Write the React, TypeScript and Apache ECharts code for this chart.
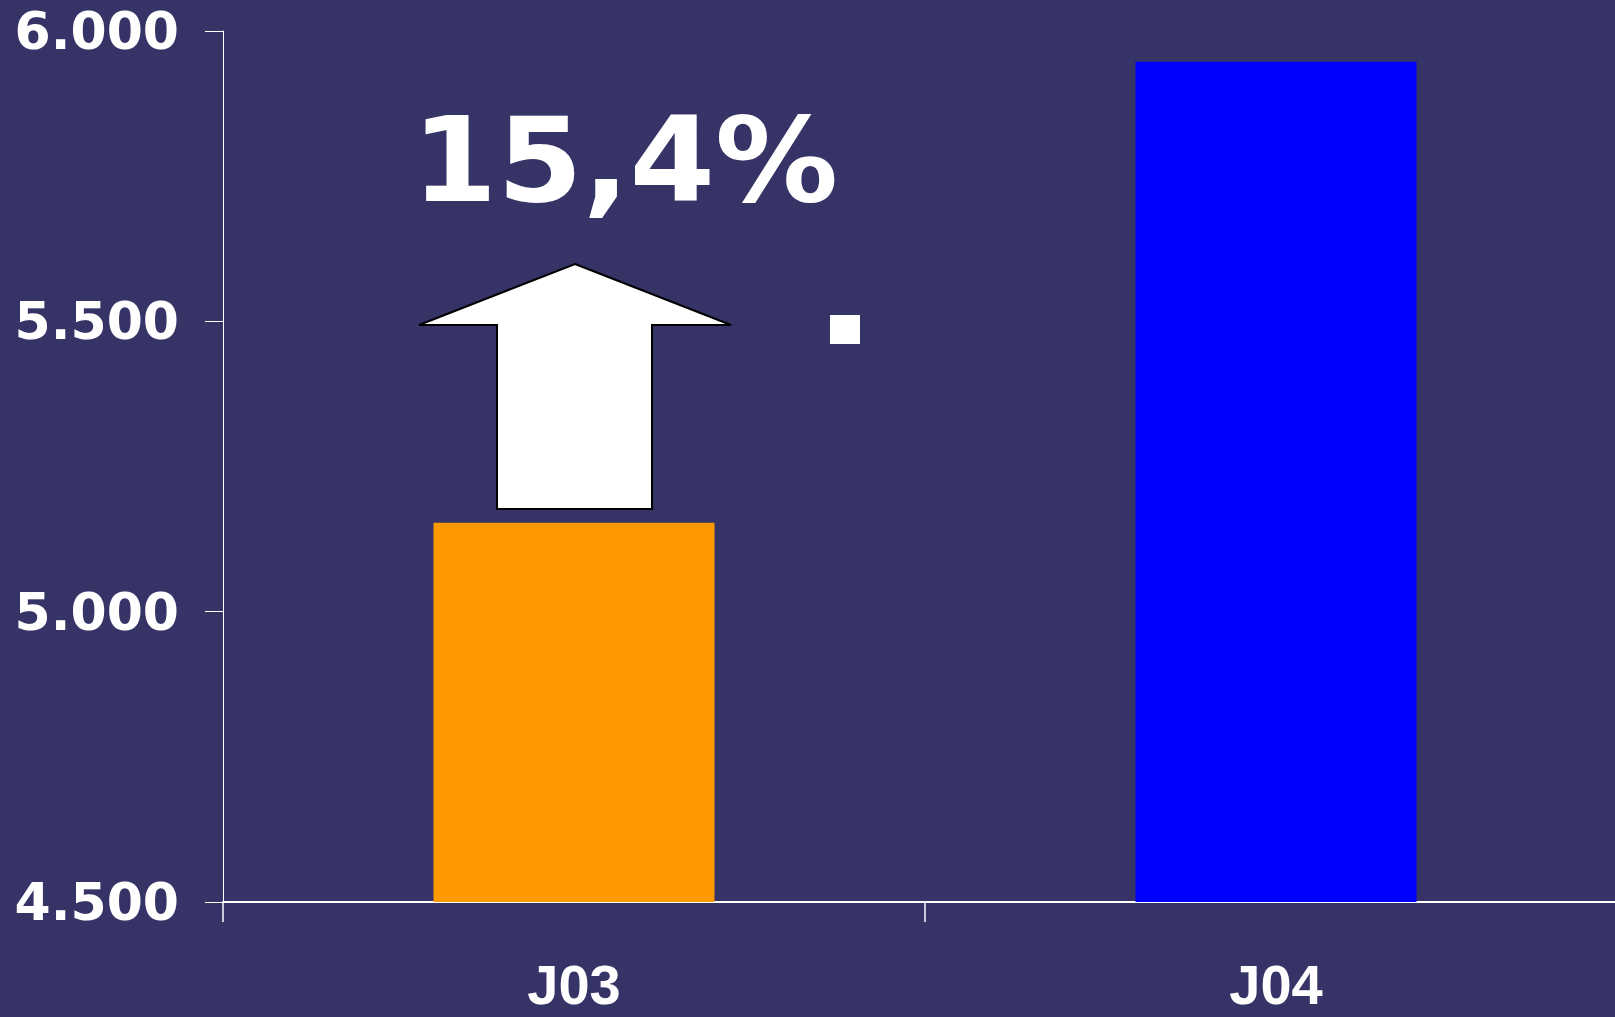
import React, { useEffect, useRef } from "react";
import * as echarts from "echarts";

const categories = ["J03", "J04"];
const values = [5153, 5947];
const barColors = ["#FF9900", "#0000FF"];
const yTicks = { min: 4500, max: 6000, interval: 500 };
const changeLabel = "15,4%";

export default function App() {
  const ref = useRef<HTMLDivElement>(null);
  useEffect(() => {
    if (!ref.current) return;
    const chart = echarts.init(ref.current, null, { renderer: "svg" });
    chart.setOption({
      animation: false,
      backgroundColor: "#363366",
      grid: {
        left: 223,
        top: 31,
        height: 871,
        width: 1404,
        containLabel: false,
        outerBoundsMode: "none",
      },
      xAxis: {
        type: "category",
        data: categories,
        axisLine: { lineStyle: { color: "#ffffff", width: 2 } },
        axisTick: { show: true, length: 20, lineStyle: { color: "#ffffff", width: 1.5 } },
        axisLabel: {
          color: "#ffffff",
          fontSize: 56,
          lineHeight: 56,
          fontWeight: "bold",
          fontFamily: "'Liberation Sans', Arial, sans-serif",
          margin: 54,
        },
      },
      yAxis: {
        type: "value",
        min: yTicks.min,
        max: yTicks.max,
        interval: yTicks.interval,
        splitLine: { show: false },
        axisLine: { show: true, lineStyle: { color: "#ffffff", width: 1 } },
        axisTick: { show: true, length: 18, lineStyle: { color: "#ffffff", width: 1 } },
        axisLabel: {
          color: "#ffffff",
          fontSize: 52,
          fontWeight: "bold",
          fontFamily: "'DejaVu Sans', sans-serif",
          margin: 44,
          formatter: (v: number) => v.toLocaleString("de-DE"),
        },
      },
      series: [
        {
          type: "bar",
          barWidth: 281,
          data: values.map((v, i) => ({ value: v, itemStyle: { color: barColors[i] } })),
        },
      ],
      graphic: [
        {
          type: "polygon",
          shape: {
            points: [
              [575, 264],
              [731, 325],
              [652, 325],
              [652, 509],
              [497, 509],
              [497, 325],
              [419, 325],
            ],
          },
          style: { fill: "#ffffff", stroke: "#000000", lineWidth: 2 },
        },
        {
          type: "text",
          x: 625,
          y: 160,
          scaleX: 1.042,
          style: {
            text: changeLabel,
            fill: "#ffffff",
            font: "bold 118px 'DejaVu Sans', sans-serif",
            textAlign: "center",
            textVerticalAlign: "middle",
          },
        },
        {
          type: "rect",
          shape: { x: 830, y: 315, width: 30, height: 29 },
          style: { fill: "#ffffff" },
        },
      ],
    });
    return () => chart.dispose();
  }, []);
  return (
    <div
      ref={ref}
      style={{ position: "fixed", left: 0, top: 0, width: 1615, height: 1017 }}
    />
  );
}
